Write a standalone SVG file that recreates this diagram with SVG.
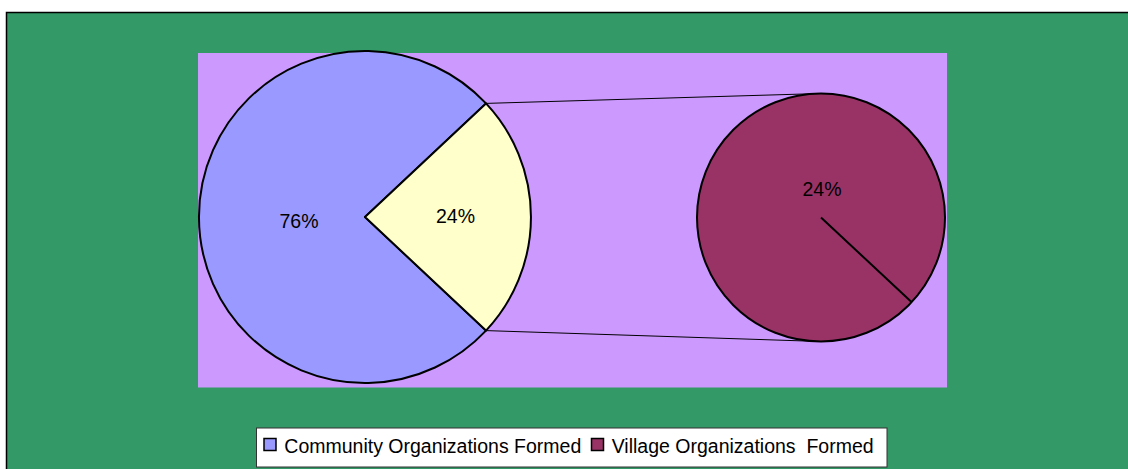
<svg xmlns="http://www.w3.org/2000/svg" width="1128" height="469" viewBox="0 0 1128 469">
<style>
.lbl{font-family:"Liberation Sans",Arial,sans-serif;font-size:19.5px;fill:#000}
.edge{stroke:#000;stroke-width:2;stroke-linejoin:round}
.conn{stroke:#000;stroke-width:1;fill:none}
</style>
<rect x="0" y="0" width="1128" height="469" fill="#fff"/>
<rect id="chart-area" x="6.5" y="12.5" width="1130" height="470" fill="#339966" stroke="#000" stroke-width="1.5"/>
<rect id="plot-area" x="198" y="53" width="749" height="334.5" fill="#CC99FF"/>
<g id="connectors">
<line class="conn" x1="486" y1="103.4" x2="821" y2="93.5"/>
<line class="conn" x1="486" y1="330.6" x2="821" y2="341.5"/>
</g>
<g id="pie-main">
<path class="edge" fill="#9999FF" d="M365,217 L486,103.4 A166,166 0 1,0 486,330.6 Z"/>
<path class="edge" fill="#FFFFCC" d="M365,217 L486,103.4 A166,166 0 0,1 486,330.6 Z"/>
<text class="lbl" x="299" y="228" text-anchor="middle">76%</text>
<text class="lbl" x="455.5" y="223" text-anchor="middle">24%</text>
</g>
<g id="pie-detail">
<circle class="edge" cx="821" cy="217.5" r="124" fill="#993366"/>
<line class="edge" x1="821" y1="217.5" x2="911.5" y2="302"/>
<text class="lbl" x="822" y="195.5" text-anchor="middle">24%</text>
</g>
<g id="legend">
<rect x="256.5" y="428" width="630.5" height="39" fill="#fff" stroke="#333" stroke-width="1"/>
<rect x="264" y="438.5" width="12" height="12" fill="#9999FF" stroke="#000" stroke-width="1.5"/>
<text class="lbl" x="284.3" y="453.3">Community Organizations Formed</text>
<rect x="591.5" y="438.5" width="12" height="12" fill="#993366" stroke="#000" stroke-width="1.5"/>
<text class="lbl" x="611.7" y="453.3" xml:space="preserve" style="white-space:pre">Village Organizations  Formed</text>
</g>
</svg>
